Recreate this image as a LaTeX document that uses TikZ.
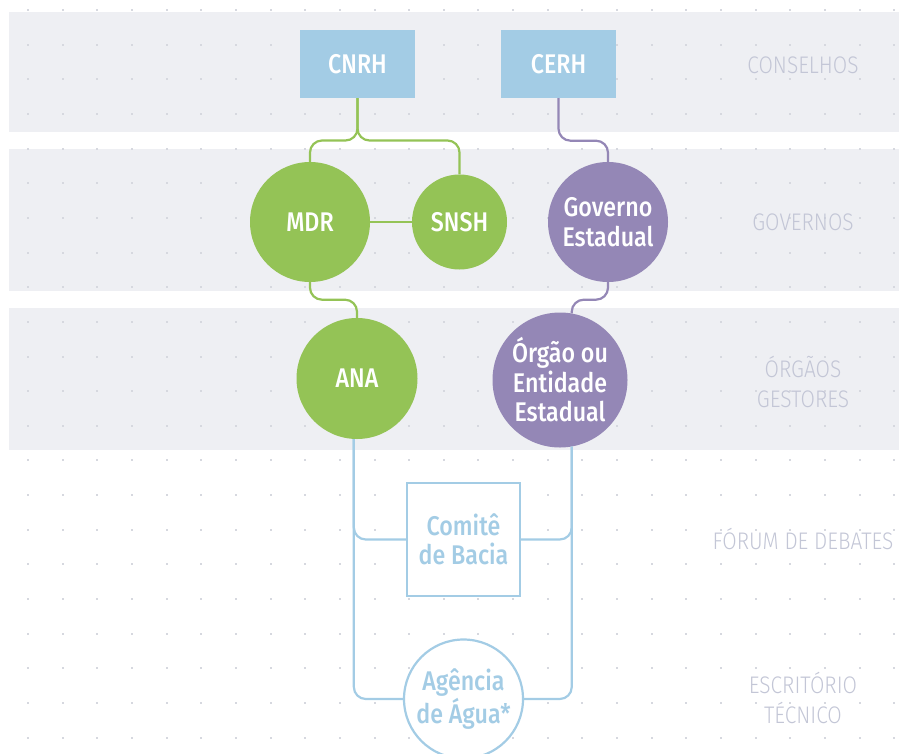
\documentclass[tikz,border=0pt]{standalone}
\usepackage{fontspec}
\usepackage{tikz}
\usepackage{xcolor}
\newfontfamily\nodefont[FakeStretch=0.86,UprightFont=* Medium]{Fira Sans}
\newfontfamily\layerfont[FakeStretch=0.87,UprightFont=* Light]{Fira Sans}
\definecolor{bandgray}{HTML}{EEEFF3}
\definecolor{dotgray}{HTML}{D6D8DF}
\definecolor{cnblue}{HTML}{A3CCE5}
\definecolor{fedgreen}{HTML}{94C356}
\definecolor{estpurple}{HTML}{9487B6}
\definecolor{layertext}{HTML}{C3C6D6}

\begin{document}
\begin{tikzpicture}[x=1pt,y=-1pt,
  conbox/.style={rectangle,fill=cnblue,text=white,minimum width=115,minimum height=68,font=\nodefont\fontsize{27}{29.5}\selectfont},
  fedcirc/.style={circle,fill=fedgreen,text=white,inner sep=0pt,font=\nodefont\fontsize{27}{29.5}\selectfont,align=center},
  estcirc/.style={circle,fill=estpurple,text=white,inner sep=0pt,font=\nodefont\fontsize{27}{29.5}\selectfont,align=center},
  baciabox/.style={draw=cnblue,line width=2.2pt,fill=white,text=cnblue,inner sep=0pt,font=\nodefont\fontsize{27}{29.5}\selectfont,align=center},
  layerlbl/.style={text=layertext,align=center,font=\layerfont\fontsize{24}{30}\selectfont},
  fedline/.style={draw=fedgreen,line width=2.2pt,rounded corners=12},
  estline/.style={draw=estpurple,line width=2.2pt,rounded corners=12},
  baciline/.style={draw=cnblue,line width=2.2pt,rounded corners=12}]
  \useasboundingbox (0,0) rectangle (899,753);
  \clip (0,0) rectangle (899,753);
  \fill[bandgray] (9,12) rectangle (899,132);
  \fill[bandgray] (9,149) rectangle (899,291);
  \fill[bandgray] (9,308) rectangle (899,450);
  \foreach \i in {0,...,25} {\foreach \j in {0,...,21} {\fill[dotgray] (28+34.65*\i-1,10+34.65*\j-1) rectangle ++(2,2);}}

  \node[conbox] (cnrh) at (357.5,64) {CNRH};
  \node[conbox] (cerh) at (558.5,64) {CERH};
  \node[fedcirc,minimum size=120] (mdr) at (310,222) {MDR};
  \node[fedcirc,minimum size=95] (snsh) at (459.5,222) {SNSH};
  \node[estcirc,minimum size=120] (gov) at (608,222) {Governo\\Estadual};
  \node[fedcirc,minimum size=121] (ana) at (357,378.5) {ANA};
  \node[estcirc,minimum size=135] (orgao) at (560,380) {Órgão ou\\Entidade\\Estadual};
  \node[baciabox,rectangle,minimum width=113,minimum height=113] (comite) at (463.5,539.5) {Comitê\\de Bacia};
  \node[baciabox,circle,minimum size=119] (agencia) at (463.5,699) {Agência\\de Água*};

  \coordinate (split) at (357.5,140.5);
  \draw[fedline] (cnrh.south) -- (split) -| (mdr.north);
  \draw[fedline] (cnrh.south) -- (split) -| (snsh.north);
  \draw[fedline] (mdr) -- (snsh);
  \draw[fedline] (mdr.south) -- ++(0,17.5) -| (ana.north);
  \draw[estline] (cerh.south) -- ++(0,42.5) -| (gov.north);
  \draw[estline] (gov.south) -- ++(0,17.5) -| (orgao.80);
  \draw[baciline] (ana.-93) |- (comite.west);
  \draw[baciline] (ana.-93) |- (agencia.west);
  \draw[baciline] (orgao.-80) |- (comite.east);
  \draw[baciline] (orgao.-80) |- (agencia.east);

  \node[layerlbl] (lblconselhos) at (803,65) {CONSELHOS};
  \node[layerlbl] (lblgovernos) at (803,222) {GOVERNOS};
  \node[layerlbl] (lblorgaos) at (803,382) {ÓRGÃOS\\GESTORES};
  \node[layerlbl] (lblforum) at (803,539) {FÓRUM DE DEBATES};
  \node[layerlbl] (lblescritorio) at (803,698) {ESCRITÓRIO\\TÉCNICO};
\end{tikzpicture}
\end{document}
